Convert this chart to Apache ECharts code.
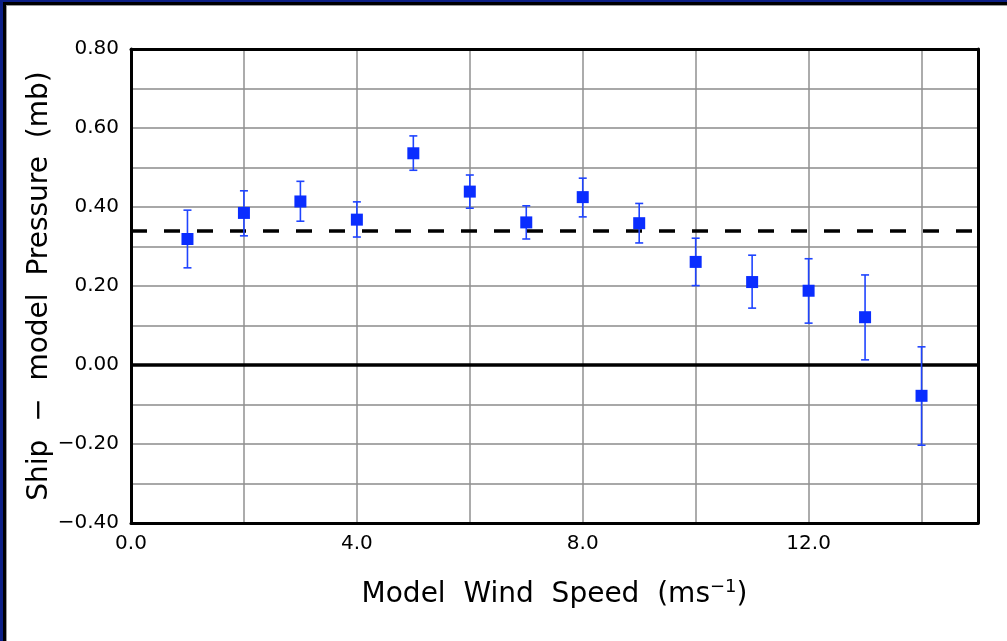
<!DOCTYPE html>
<html>
<head>
<meta charset="utf-8">
<script src="https://cdn.jsdelivr.net/npm/echarts@6/dist/echarts.min.js"></script>
<style>
  html, body { margin: 0; padding: 0; background: #fff; overflow: hidden; }
  #chart { position: absolute; left: 0; top: 0; width: 1007px; height: 641px; }
  .f1 { position: absolute; left: 0; top: 0; width: 1007px; height: 641px; box-sizing: border-box;
        border-left: 3px solid #0c1f86; border-top: 2px solid #0c1f86; pointer-events: none; }
  .f2 { position: absolute; left: 3px; top: 2px; width: 1004px; height: 639px; box-sizing: border-box;
        border-left: 3px solid #000; border-top: 3px solid #000; pointer-events: none; }
  .f3 { position: absolute; left: 6px; top: 5px; width: 1001px; height: 636px; box-sizing: border-box;
        border-left: 1px solid #999; border-top: 1px solid #999; pointer-events: none; }
</style>
</head>
<body>
<div id="chart"></div>
<div class="f1"></div><div class="f2"></div><div class="f3"></div>
<script>
// Data
const windSpeed = [1, 2, 3, 4, 5, 6, 7, 8, 9, 10, 11, 12, 13, 14];
const pressureDiff = [0.319, 0.385, 0.414, 0.368, 0.536, 0.439, 0.361, 0.425, 0.359, 0.261, 0.210, 0.188, 0.121, -0.078];
const errLow  = [0.246, 0.327, 0.364, 0.324, 0.493, 0.397, 0.319, 0.375, 0.309, 0.201, 0.144, 0.106, 0.013, -0.203];
const errHigh = [0.392, 0.441, 0.465, 0.413, 0.580, 0.481, 0.403, 0.473, 0.409, 0.321, 0.278, 0.269, 0.228, 0.046];
const meanLevel = 0.344;
const zeroLevel = 0;

const FONT = 'DejaVu Sans';
const chart = echarts.init(document.getElementById('chart'), null, { renderer: 'canvas' });

const points = windSpeed.map((x, i) => [x, pressureDiff[i]]);
const bars = windSpeed.map((x, i) => [x, errLow[i], errHigh[i]]);

function fmtMinus(s) { return s.replace('-', '\u2212'); }

const frameAxis = { show: true, onZero: false, lineStyle: { color: '#000', width: 3 } };

chart.setOption({
  backgroundColor: '#fff',
  animation: false,
  grid: {
    left: 131, top: 49, width: 847, height: 474,
    show: true, borderColor: '#000', borderWidth: 0, backgroundColor: '#fff'
  },
  xAxis: [{
    type: 'value', min: 0, max: 15, interval: 2,
    name: 'Model  Wind  Speed  (ms{sup|\u22121})',
    nameLocation: 'middle', nameGap: 55,
    nameTextStyle: {
      fontFamily: FONT, fontSize: 28, color: '#000',
      rich: { sup: { fontFamily: FONT, fontSize: 18, color: '#000', verticalAlign: 'top', padding: [0, 0, 16, 0] } }
    },
    axisLine: frameAxis,
    axisTick: { show: false },
    axisLabel: {
      fontFamily: FONT, fontSize: 20, color: '#000', margin: 11,
      formatter: v => (Math.round(v) % 4 === 0 && Math.abs(v - Math.round(v)) < 1e-6) ? fmtMinus(v.toFixed(1)) : ''
    },
    splitLine: { show: true, lineStyle: { color: '#909090', width: 1.5 } }
  }, {
    type: 'value', min: 0, max: 15, position: 'top',
    axisLine: frameAxis, axisTick: { show: false }, axisLabel: { show: false }, splitLine: { show: false }
  }],
  yAxis: [{
    type: 'value', min: -0.4, max: 0.8, interval: 0.1,
    name: 'Ship  \u2212  model  Pressure  (mb)',
    nameLocation: 'middle', nameGap: 77, nameRotate: 90, nameMoveOverlap: false,
    nameTextStyle: { fontFamily: FONT, fontSize: 28, color: '#000' },
    axisLine: frameAxis,
    axisTick: { show: false },
    axisLabel: {
      fontFamily: FONT, fontSize: 20, color: '#000', margin: 12,
      formatter: v => (Math.round(v * 10) % 2 === 0) ? fmtMinus((Math.round(v * 10) / 10).toFixed(2)) : ''
    },
    splitLine: { show: true, lineStyle: { color: '#a8a8a8', width: 2 } }
  }, {
    type: 'value', min: -0.4, max: 0.8, position: 'right',
    axisLine: frameAxis, axisTick: { show: false }, axisLabel: { show: false }, splitLine: { show: false }
  }],
  series: [
    {
      type: 'custom',
      name: 'error',
      data: bars,
      z: 3,
      renderItem: function (params, api) {
        const x = api.value(0);
        const lo = api.coord([x, api.value(1)]);
        const hi = api.coord([x, api.value(2)]);
        const hw = 4;
        const style = { stroke: '#1f44ff', lineWidth: 1.6, fill: null };
        return {
          type: 'group',
          children: [
            { type: 'line', shape: { x1: lo[0], y1: lo[1], x2: hi[0], y2: hi[1] }, style: style },
            { type: 'line', shape: { x1: lo[0] - hw, y1: lo[1], x2: lo[0] + hw, y2: lo[1] }, style: style },
            { type: 'line', shape: { x1: hi[0] - hw, y1: hi[1], x2: hi[0] + hw, y2: hi[1] }, style: style }
          ]
        };
      }
    },
    {
      type: 'scatter',
      name: 'mean',
      data: points,
      symbol: 'rect',
      symbolSize: 12,
      z: 4,
      itemStyle: { color: '#0a2dff', opacity: 1 },
      markLine: {
        silent: true,
        symbol: 'none',
        label: { show: false },
        z: 2,
        data: [
          { yAxis: zeroLevel, lineStyle: { color: '#000', width: 3.5, type: 'solid', opacity: 1 } },
          { yAxis: meanLevel, lineStyle: { color: '#000', width: 3.5, type: [16, 17], opacity: 1 } }
        ]
      }
    }
  ]
});
</script>
</body>
</html>
